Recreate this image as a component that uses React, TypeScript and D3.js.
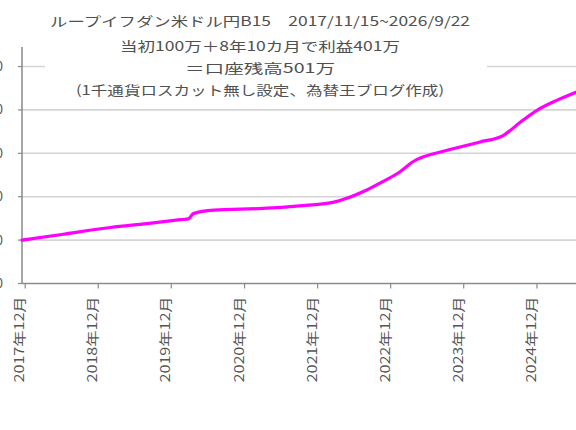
import React from 'react';
import * as d3 from 'd3';

// chart data (values in 万円)
const titleLines = [
  'ループイフダン米ドル円B15　2017/11/15~2026/9/22',
  '当初100万＋8年10カ月で利益401万',
  '＝口座残高501万',
  '(1千通貨ロスカット無し設定、為替王ブログ作成)',
];

const dates = [
  '2017-11-15', '2018-06-01', '2019-02-01', '2019-08-01', '2020-01-15',
  '2020-02-25', '2020-03-20', '2020-07-01', '2021-03-01', '2021-09-01',
  '2022-02-15', '2022-05-10', '2022-08-01', '2022-10-20', '2023-01-15',
  '2023-03-20', '2023-09-10', '2024-02-20', '2024-06-15', '2024-09-10',
  '2024-12-01', '2025-03-10', '2025-06-15', '2025-12-01', '2026-09-22',
];
const balance = [
  100, 113, 129, 138, 147,
  149, 161, 169, 173, 179,
  187, 199, 215, 234, 257,
  280, 307, 326, 341, 372,
  399, 422, 441, 470, 501,
];

const yTicks = [0, 100, 200, 300, 400, 500];
const xTickDates = [
  '2017-12-01', '2018-12-01', '2019-12-01', '2020-12-01', '2021-12-01',
  '2022-12-01', '2023-12-01', '2024-12-01', '2025-12-01',
];
const xTickLabels = [
  '2017年12月', '2018年12月', '2019年12月', '2020年12月', '2021年12月',
  '2022年12月', '2023年12月', '2024年12月', '2025年12月',
];

// layout
const W = 576;
const H = 430;
const plot = { left: 22, bottom: 283.5, top: 47, pxPerYear: 73.1 };
const titleBox = { x: 45, y: 0, w: 442, h: 104 };
const titleRows = [
  { y: 26, len: 420 },
  { y: 51, len: 280 },
  { y: 73, len: 150 },
  { y: 95, len: 368 },
];
const font = '"Noto Sans CJK JP", "Noto Sans", sans-serif';

const parse = d3.timeParse('%Y-%m-%d');

export default function App() {
  const series = dates.map((d, i) => ({ date: parse(d) as Date, v: balance[i] }));
  const start = series[0].date;
  const end = series[series.length - 1].date;
  const years = (end.getTime() - start.getTime()) / (365.25 * 864e5);

  const x = d3.scaleTime()
    .domain([start, end])
    .range([plot.left, plot.left + years * plot.pxPerYear]);
  const y = d3.scaleLinear()
    .domain([0, 545])
    .range([plot.bottom, plot.top]);

  const line = d3.line<{ date: Date; v: number }>()
    .x(d => x(d.date))
    .y(d => y(d.v))
    .curve(d3.curveMonotoneX);

  return (
    <svg
      width={W}
      height={H}
      style={{ position: 'absolute', left: 0, top: 0, background: '#fff', overflow: 'hidden' }}
      fontFamily={font}
    >
      <rect x={0} y={0} width={W} height={H} fill="#fff" />

      {/* grid lines */}
      {yTicks.filter(t => t > 0).map(t => (
        <line key={t} x1={plot.left} x2={W + 200} y1={y(t)} y2={y(t)}
          stroke="#d4d4d4" strokeWidth={1.6} />
      ))}

      {/* y axis */}
      <line x1={plot.left} x2={plot.left} y1={plot.top} y2={plot.bottom}
        stroke="#8a8a8a" strokeWidth={1.5} />
      {yTicks.map(t => (
        <g key={t}>
          <line x1={plot.left - 4} x2={plot.left} y1={y(t)} y2={y(t)} stroke="#8a8a8a" strokeWidth={1.2} />
          <text x={3} y={y(t)} dy="0.35em" textAnchor="end" fontSize={13} fill="#555">{t}</text>
        </g>
      ))}

      {/* x axis */}
      <line x1={plot.left} x2={W + 200} y1={plot.bottom} y2={plot.bottom}
        stroke="#8a8a8a" strokeWidth={1.5} />
      {xTickDates.map((d, i) => {
        const tx = x(parse(d) as Date);
        return (
          <g key={d}>
            <line x1={tx} x2={tx} y1={plot.bottom} y2={plot.bottom + 5} stroke="#8a8a8a" strokeWidth={1.2} />
            <text
              transform={`translate(${tx - 1},${plot.bottom + 13}) rotate(-90)`}
              textAnchor="end"
              fontSize={13}
              fill="#555"
              textLength={86}
              lengthAdjust="spacingAndGlyphs"
            >
              {xTickLabels[i]}
            </text>
          </g>
        );
      })}

      {/* title block */}
      <rect x={titleBox.x} y={titleBox.y} width={titleBox.w} height={titleBox.h} fill="#fff" />
      {titleLines.map((t, i) => (
        <text
          key={i}
          x={titleBox.x + titleBox.w / 2 - 6}
          y={titleRows[i].y}
          textAnchor="middle"
          fontSize={13}
          fill="#505050"
          textLength={titleRows[i].len}
          lengthAdjust="spacingAndGlyphs"
        >
          {t}
        </text>
      ))}

      {/* balance line */}
      <path d={line(series) ?? ''} fill="none" stroke="#ff00ff" strokeWidth={3.2}
        strokeLinejoin="round" strokeLinecap="round" />
    </svg>
  );
}
